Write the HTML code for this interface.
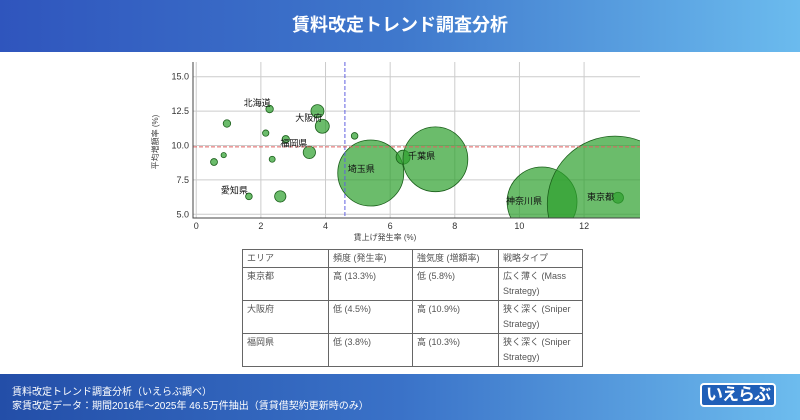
<!DOCTYPE html>
<html><head><meta charset="utf-8"><style>
body{margin:0;width:800px;height:420px;overflow:hidden;background:#fff;font-family:"Liberation Sans","Noto Sans CJK JP",sans-serif;position:relative}
#hdr{position:absolute;left:0;top:0;width:800px;height:52px;background:linear-gradient(90deg,#2f55bd 0%,#3f78cc 50%,#6bbbee 100%);color:#fff;font-weight:bold;font-size:18px;text-align:center;line-height:50px}
#ftr{position:absolute;left:0;top:374px;width:800px;height:46px;background:linear-gradient(90deg,#234ea8 0%,#3a72c8 50%,#6dbcee 100%);color:#fff;font-size:10px}
#ftr .l1{position:absolute;left:12px;top:9px}
#ftr .l2{position:absolute;left:12px;top:23px}
#logo{position:absolute;left:700px;top:9px;font-weight:bold;font-size:17px;color:#fff;background:#1f5fb8;padding:0 4px;border-radius:4px;border:2px solid #fff;line-height:20px;letter-spacing:-1px}
table{position:absolute;left:242px;top:249px;border-collapse:collapse;font-size:9px;color:#555;table-layout:fixed}
td{border:1px solid #666;vertical-align:top;padding:1px 4px;line-height:15px;overflow:hidden;box-sizing:border-box}
</style></head><body>
<div id="hdr">賃料改定トレンド調査分析</div>
<svg id="chart" width="800" height="250" style="position:absolute;left:0;top:0"></svg>
<table>
<tr style="height:17px"><td style="width:86px;height:17px">エリア</td><td style="width:84px">頻度 (発生率)</td><td style="width:86px">強気度 (増額率)</td><td style="width:84px">戦略タイプ</td></tr>
<tr style="height:33px"><td style="height:33px">東京都</td><td>高 (13.3%)</td><td>低 (5.8%)</td><td>広く薄く (Mass Strategy)</td></tr>
<tr style="height:33px"><td style="height:33px">大阪府</td><td>低 (4.5%)</td><td>高 (10.9%)</td><td>狭く深く (Sniper Strategy)</td></tr>
<tr style="height:33px"><td style="height:33px">福岡県</td><td>低 (3.8%)</td><td>高 (10.3%)</td><td>狭く深く (Sniper Strategy)</td></tr>
</table>
<div id="ftr">
<div class="l1">賃料改定トレンド調査分析（いえらぶ調べ）</div>
<div class="l2">家賃改定データ：期間2016年～2025年 46.5万件抽出（賃貸借契約更新時のみ）</div>
<div id="logo">いえらぶ</div>
</div>
<script>
const xs=[0.55,0.85,0.95,2.27,2.15,2.35,1.63,2.6,2.77,3.5,3.75,3.9,4.9,5.4,6.4,7.4,10.7,13.05,12.96];
const ys=[8.8,9.3,11.6,12.65,10.9,9.0,6.3,6.3,10.45,9.5,12.5,11.4,10.7,8.0,9.15,9.0,5.9,6.2,5.75];
const sizes=[12,7,14,14,10,9,11,32,14,38,42,49,11,1090,49,1050,1220,30,4600];
const names=["","","","北海道","","","愛知県","","","福岡県","","大阪府","","埼玉県","千葉県","","神奈川県","東京都",""];
const xTicks=[0,2,4,6,8,10,12];
const yTicks=[5.0,7.5,10.0,12.5,15.0];
const meanX=[4.6], meanY=[9.9];
const NS="http://www.w3.org/2000/svg",svg=document.getElementById('chart');
const L=193,R=640,T=62,B=218,x0=-0.1,x1=13.73,y0=4.73,y1=16.07;
const sx=v=>L+(v-x0)/(x1-x0)*(R-L), sy=v=>B-(v-y0)/(y1-y0)*(B-T);
function mk(t,a,p){const e=document.createElementNS(NS,t);for(const k in a)e.setAttribute(k,a[k]);(p||svg).appendChild(e);return e;}
const cp=mk('clipPath',{id:'cp'});mk('rect',{x:L,y:T,width:R-L,height:B-T},cp);
xTicks.forEach(t=>{const l=mk('line',{x1:sx(t),x2:sx(t),y1:T,y2:B,stroke:'#ccc','stroke-width':1});
const tx=mk('text',{x:sx(t),y:B+11,'font-size':9,'text-anchor':'middle',fill:'#333'});tx.textContent=t;});
yTicks.forEach(t=>{const l=mk('line',{x1:L,x2:R,y1:sy(t),y2:sy(t),stroke:'#ccc','stroke-width':1});
const tx=mk('text',{x:L-4,y:sy(t)+3,'font-size':9,'text-anchor':'end',fill:'#333'});tx.textContent=t.toFixed(1);});
const g=mk('g',{'clip-path':'url(#cp)'});
xs.forEach((x,i)=>{const c=mk('circle',{cx:sx(x),cy:sy(ys[i]),r:Math.sqrt(sizes[i])*1.0,fill:'#2ca02c','fill-opacity':0.7,stroke:'#1a5e1a','stroke-width':0.8},g);
});
const lx=mk('line',{x1:sx(meanX[0]),x2:sx(meanX[0]),y1:T,y2:B,stroke:'#6060e0','stroke-dasharray':'4,2','stroke-width':1});
const ly=mk('line',{x1:L,x2:R,y1:sy(meanY[0]),y2:sy(meanY[0]),stroke:'#e06060','stroke-dasharray':'4,2','stroke-width':1});
const anc={"北海道":'end',"愛知県":'end',"福岡県":'end',"大阪府":'end',"神奈川県":'end',"東京都":'end',"埼玉県":'start',"千葉県":'start'};
const dx={"北海道":1,"愛知県":-1,"福岡県":-2,"大阪府":0,"神奈川県":0,"東京都":-4,"埼玉県":-23,"千葉県":5};
names.forEach((n,i)=>{if(!n)return;const t=mk('text',{x:sx(xs[i])+dx[n],y:sy(ys[i])+(n==="北海道"?-3:n==="大阪府"?-5:n==="福岡県"?-6:n==="愛知県"?-3:n==="埼玉県"?-1:2),'font-size':9,'text-anchor':anc[n],fill:'#111'});t.textContent=n;});
const sp=mk('polyline',{points:`${L},${T} ${L},${B} ${R},${B}`,fill:'none',stroke:'#444','stroke-width':1});
const xl=mk('text',{x:385,y:240,'font-size':8,'text-anchor':'middle',fill:'#444'});xl.textContent='賃上げ発生率 (%)';
const yl=mk('text',{x:0,y:0,'font-size':8,'text-anchor':'middle',fill:'#444',transform:'translate(158,142) rotate(-90)'});yl.textContent='平均増額率 (%)';
</script>
</body></html>
